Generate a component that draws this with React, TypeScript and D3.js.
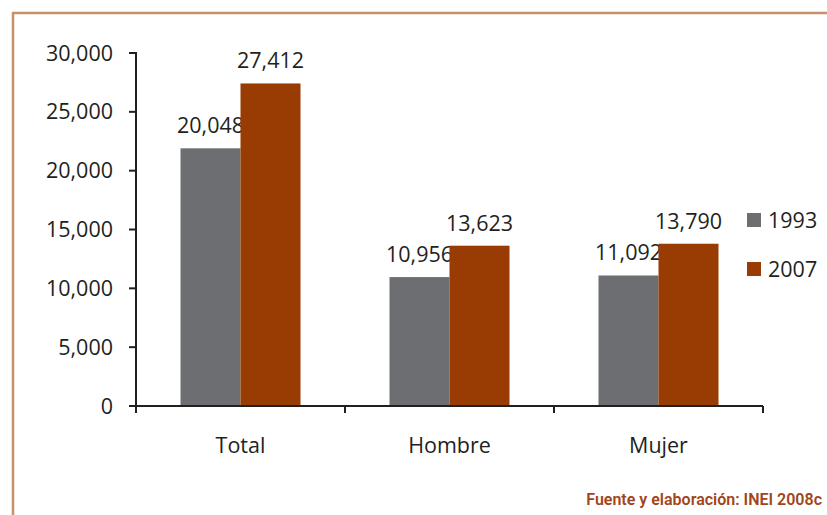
import React from "react";
import * as d3 from "d3";

const categories = ["Total", "Hombre", "Mujer"];
const series = ["1993", "2007"];
const values1993 = [21900, 10956, 11092];
const values2007 = [27412, 13623, 13790];
const labels1993 = ["20,048", "10,956", "11,092"];
const labels2007 = ["27,412", "13,623", "13,790"];
const yTicks = [0, 5000, 10000, 15000, 20000, 25000, 30000];
const sourceText = "Fuente y elaboración: INEI 2008c";

const W = 827;
const H = 515;
const colors = ["#6d6e71", "#983c04"];
const textColor = "#231f20";
const font = "'Open Sans', 'Noto Sans', sans-serif";

export default function App() {
  const x0 = d3.scaleBand<string>().domain(categories).range([136, 763]).paddingInner(0).paddingOuter(0);
  const y = d3.scaleLinear().domain([0, 30000]).range([406, 53]);
  const barW = 60;
  const data = [values1993, values2007];
  const labs = [labels1993, labels2007];
  const fmt = d3.format(",");

  return (
    <svg width={W} height={H} style={{ position: "absolute", left: 0, top: 0, background: "#fff" }}>
      <rect x={0} y={0} width={W} height={H} fill="#fff" />
      {/* frame */}
      <line x1={12.5} y1={13} x2={W} y2={13} stroke="#c8906c" strokeWidth={2.5} />
      <line x1={13} y1={12} x2={13} y2={H} stroke="#c8906c" strokeWidth={2.5} />

      {/* bars */}
      {categories.map((c, i) => {
        const cx = (x0(c) as number) + x0.bandwidth() / 2;
        return series.map((s, j) => {
          const bx = cx - barW + j * barW;
          const v = data[j][i];
          return (
            <g key={c + s}>
              <rect x={bx} y={y(v)} width={barW} height={y(0) - y(v)} fill={colors[j]} />
              <text x={bx + barW / 2} y={y(v) - 15} textAnchor="middle" fontFamily={font} fontSize={21.5} fill={textColor}>
                {labs[j][i]}
              </text>
            </g>
          );
        });
      })}

      {/* y axis */}
      <line x1={136} y1={y(30000) - 1} x2={136} y2={y(0) + 1} stroke={textColor} strokeWidth={2} />
      {yTicks.map((t) => (
        <g key={t}>
          <line x1={129} x2={136} y1={y(t)} y2={y(t)} stroke={textColor} strokeWidth={2} />
          <text x={113} y={y(t) + 7.5} textAnchor="end" fontFamily={font} fontSize={21.5} fill={textColor}>
            {fmt(t)}
          </text>
        </g>
      ))}

      {/* x axis */}
      <line x1={135} x2={763} y1={y(0)} y2={y(0)} stroke={textColor} strokeWidth={2} />
      {[...categories.map((c) => x0(c) as number), 763].map((px, i) => (
        <line key={i} x1={px} x2={px} y1={y(0)} y2={y(0) + 7} stroke={textColor} strokeWidth={2} />
      ))}
      {categories.map((c) => (
        <text key={c} x={(x0(c) as number) + x0.bandwidth() / 2} y={453} textAnchor="middle" fontFamily={font} fontSize={21.5} fill={textColor}>
          {c}
        </text>
      ))}

      {/* legend */}
      {series.map((s, j) => (
        <g key={s} transform={`translate(747, ${213 + j * 49})`}>
          <rect x={0} y={0} width={14} height={14} fill={colors[j]} />
          <text x={21} y={15} fontFamily={font} fontSize={21.5} fill={textColor}>
            {s}
          </text>
        </g>
      ))}

      {/* source */}
      <text x={822} y={505} textAnchor="end" fontFamily="'Liberation Sans Narrow', 'Roboto', sans-serif" fontWeight={600} fontSize={16} fill="#a0461a">
        {sourceText}
      </text>
    </svg>
  );
}
